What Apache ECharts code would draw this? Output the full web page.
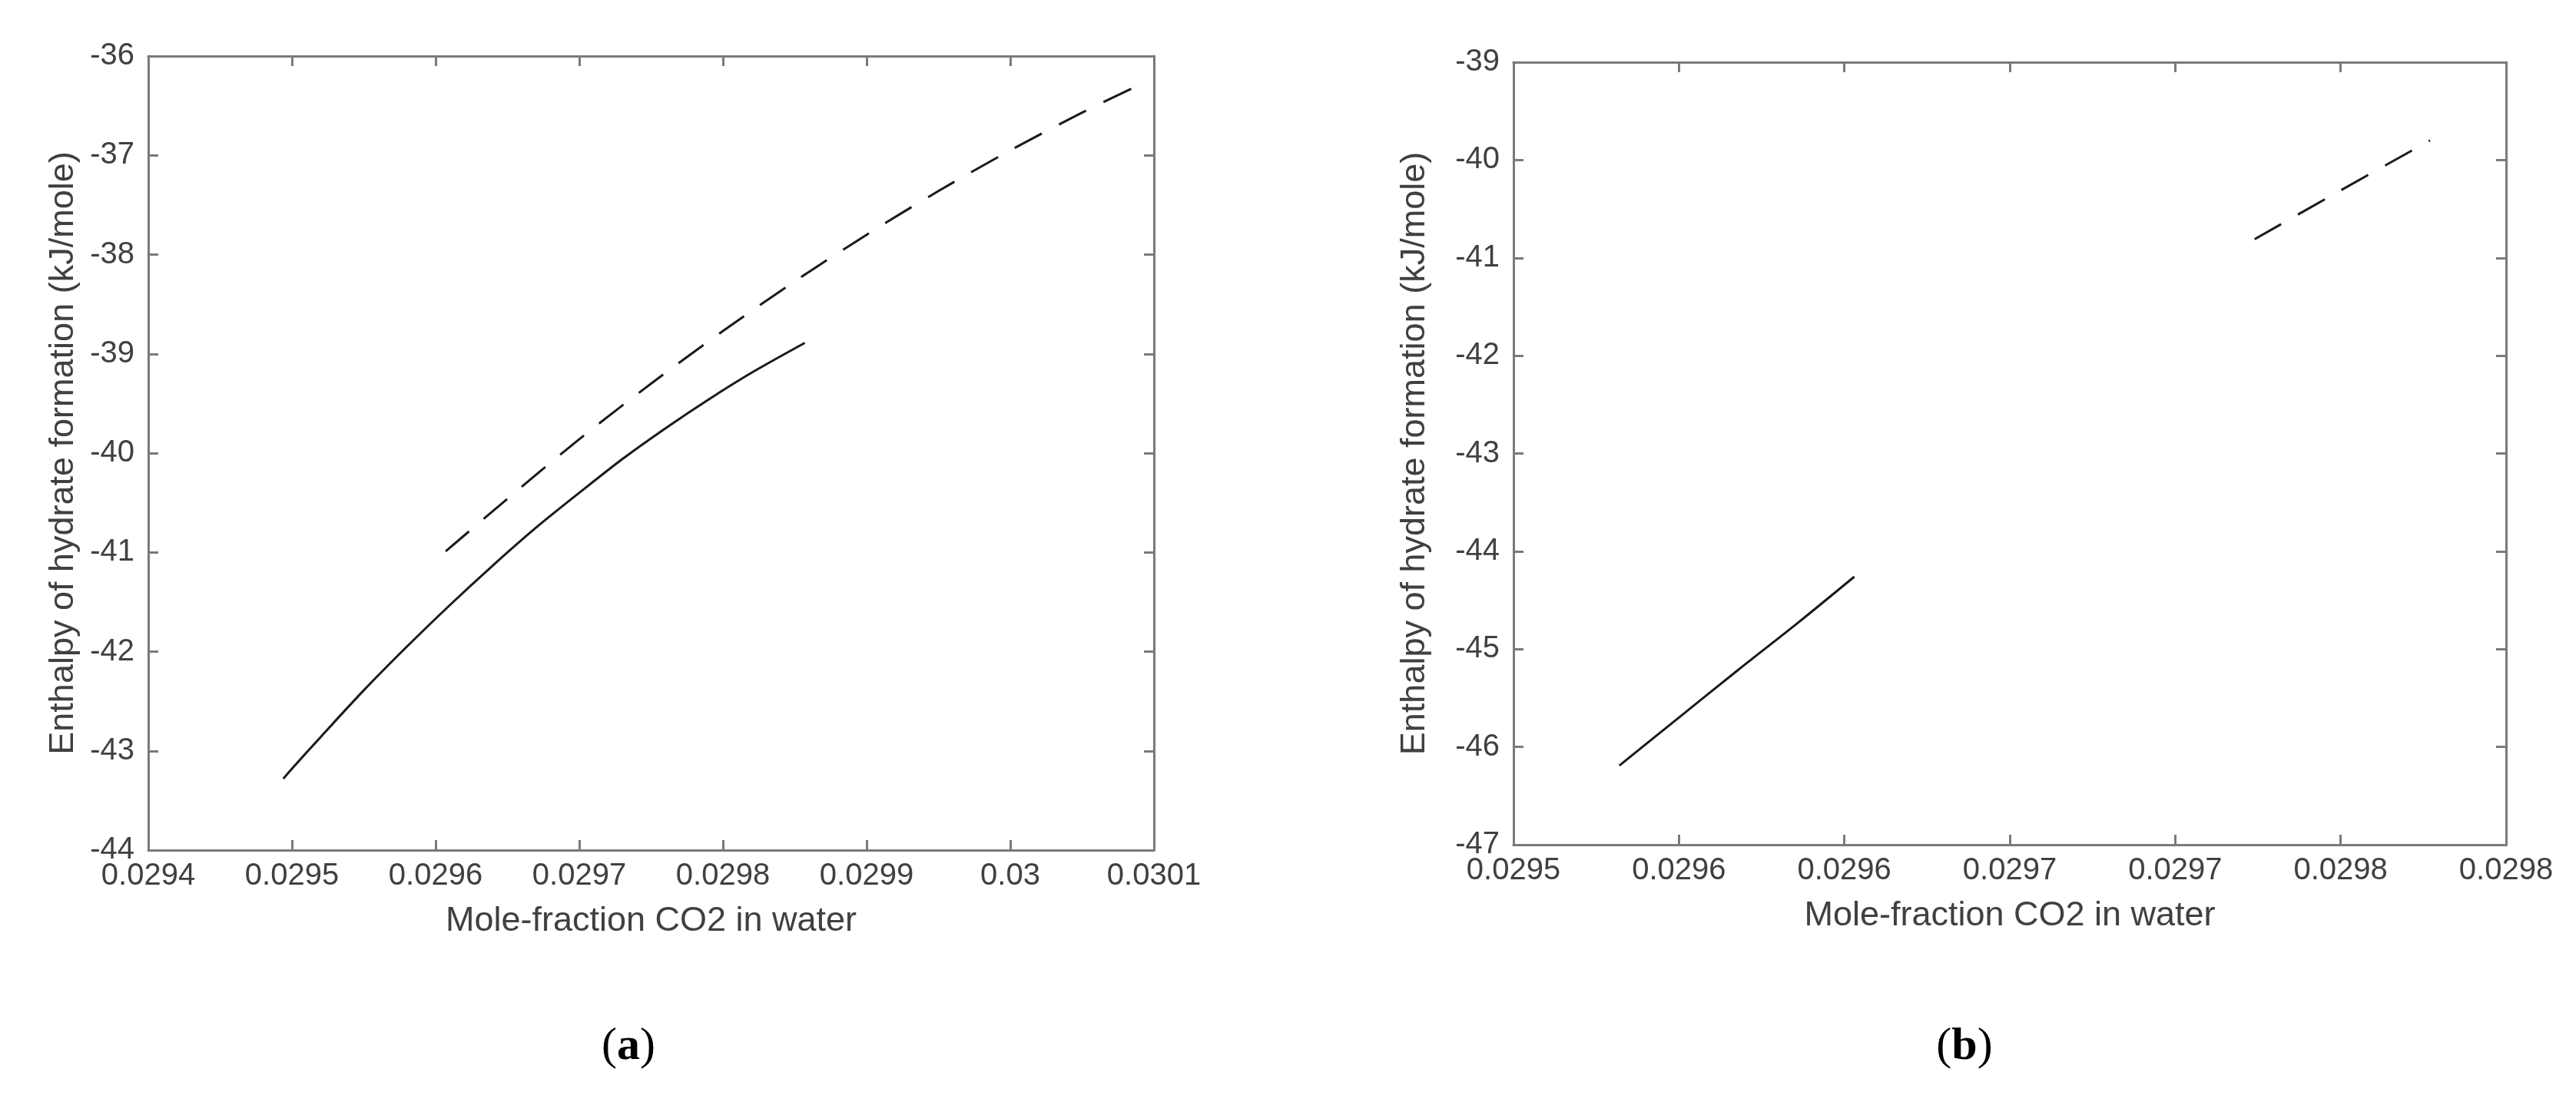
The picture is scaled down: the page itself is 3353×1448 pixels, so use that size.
<!DOCTYPE html>
<html lang="en">
<head>
    <meta charset="UTF-8">
    <title>Enthalpy of hydrate formation</title>
    <script src="https://cdn.jsdelivr.net/npm/echarts@6/dist/echarts.min.js"></script>
    <style>
        html, body { margin: 0; padding: 0; background: #fff; }
        #chart { width: 3353px; height: 1448px; }
    </style>
</head>
<body>
<div id="chart"></div>
<script>
    // panel (a)
    var solidAx = [0.029494, 0.02950, 0.02952, 0.02955, 0.02958, 0.02961, 0.02964, 0.02967, 0.02970, 0.02973, 0.02976, 0.02979, 0.02982, 0.029857];
    var solidAy = [-43.28, -43.18, -42.86, -42.39, -41.95, -41.53, -41.13, -40.75, -40.40, -40.06, -39.75, -39.46, -39.19, -38.89];
    var dashAx = [0.029607, 0.02965, 0.02970, 0.02975, 0.02980, 0.02985, 0.02990, 0.02995, 0.03000, 0.03005, 0.030087];
    var dashAy = [-40.99, -40.46, -39.86, -39.30, -38.77, -38.27, -37.80, -37.36, -36.95, -36.57, -36.31];
    var xTicksA = ['0.0294', '0.0295', '0.0296', '0.0297', '0.0298', '0.0299', '0.03', '0.0301'];

    // panel (b)
    var solidBx = [0.029532, 0.029550, 0.029568, 0.029586, 0.029603];
    var solidBy = [-46.19, -45.70, -45.21, -44.73, -44.26];
    var dashBx = [0.029724, 0.029750, 0.029777];
    var dashBy = [-40.81, -40.31, -39.80];
    var xTicksB = ['0.0295', '0.0296', '0.0296', '0.0297', '0.0297', '0.0298', '0.0298'];

    var font = "'Liberation Sans', Arial, sans-serif";
    var axisGray = '#7a7a7a';
    var textGray = '#404040';

    function pairs(xs, ys) {
        var out = [];
        for (var i = 0; i < xs.length; i++) out.push([xs[i], ys[i]]);
        return out;
    }

    function xAxes(grid, min, max, step, ticks) {
        return [{
            type: 'value', gridIndex: grid, position: 'bottom',
            min: min, max: max, interval: step,
            name: 'Mole-fraction CO2 in water', nameLocation: 'middle', nameGap: 70,
            nameTextStyle: { fontFamily: font, fontSize: 45, color: textGray },
            axisLine: { show: true, onZero: false, lineStyle: { color: axisGray, width: 3 } },
            axisTick: { show: true, inside: true, length: 13, lineStyle: { color: axisGray, width: 3 } },
            axisLabel: {
                margin: 14, fontFamily: font, fontSize: 40, color: textGray, showMinLabel: true, showMaxLabel: true,
                formatter: function (v) { return ticks[Math.round((v - min) / step)]; }
            },
            splitLine: { show: false }
        }, {
            type: 'value', gridIndex: grid, position: 'top',
            min: min, max: max, interval: step,
            axisLine: { show: true, onZero: false, lineStyle: { color: axisGray, width: 3 } },
            axisTick: { show: true, inside: true, length: 13, lineStyle: { color: axisGray, width: 3 } },
            axisLabel: { show: false },
            splitLine: { show: false }
        }];
    }

    function yAxes(grid, min, max, gap) {
        return [{
            type: 'value', gridIndex: grid, position: 'left',
            min: min, max: max, interval: 1,
            name: 'Enthalpy of hydrate formation (kJ/mole)', nameLocation: 'middle', nameGap: gap,
            nameTextStyle: { fontFamily: font, fontSize: 45, color: textGray },
            axisLine: { show: true, onZero: false, lineStyle: { color: axisGray, width: 3 } },
            axisTick: { show: true, inside: true, length: 13, lineStyle: { color: axisGray, width: 3 } },
            axisLabel: { margin: 18, fontFamily: font, fontSize: 40, color: textGray },
            splitLine: { show: false }
        }, {
            type: 'value', gridIndex: grid, position: 'right',
            min: min, max: max, interval: 1,
            axisLine: { show: true, onZero: false, lineStyle: { color: axisGray, width: 3 } },
            axisTick: { show: true, inside: true, length: 13, lineStyle: { color: axisGray, width: 3 } },
            axisLabel: { show: false },
            splitLine: { show: false }
        }];
    }

    function line(xi, yi, data, dashed) {
        return {
            type: 'line', xAxisIndex: xi, yAxisIndex: yi, data: data,
            showSymbol: false, smooth: 0.3, animation: false,
            lineStyle: { color: '#1a1a1a', width: 3, type: dashed ? [40, 25] : 'solid' }
        };
    }

    function panelTag(x, letter) {
        return {
            type: 'text', x: x, y: 1363,
            style: {
                text: '{p|(}{b|' + letter + '}{p|)}', align: 'center', verticalAlign: 'middle',
                rich: {
                    p: { fontFamily: "'Liberation Serif', serif", fontSize: 60, fill: '#000' },
                    b: { fontFamily: "'Liberation Serif', serif", fontSize: 60, fontWeight: 'bold', fill: '#000' }
                }
            }
        };
    }

    var chart = echarts.init(document.getElementById('chart'));
    var option = {
        backgroundColor: '#fff',
        animation: false,
        grid: [
            { left: 193, top: 73, width: 1309, height: 1034 },
            { left: 1970, top: 81, width: 1292, height: 1019 }
        ],
        xAxis: xAxes(0, 0.0294, 0.0301, 0.0001, xTicksA).concat(xAxes(1, 0.02950, 0.02980, 0.00005, xTicksB)),
        yAxis: yAxes(0, -44, -36, 88).concat(yAxes(1, -47, -39, 106)),
        series: [
            line(0, 0, pairs(solidAx, solidAy), false),
            line(0, 0, pairs(dashAx, dashAy), true),
            line(2, 2, pairs(solidBx, solidBy), false),
            line(2, 2, pairs(dashBx, dashBy), true)
        ],
        graphic: [panelTag(818, 'a'), panelTag(2557, 'b')]
    };
    chart.setOption(option);
</script>
</body>
</html>
